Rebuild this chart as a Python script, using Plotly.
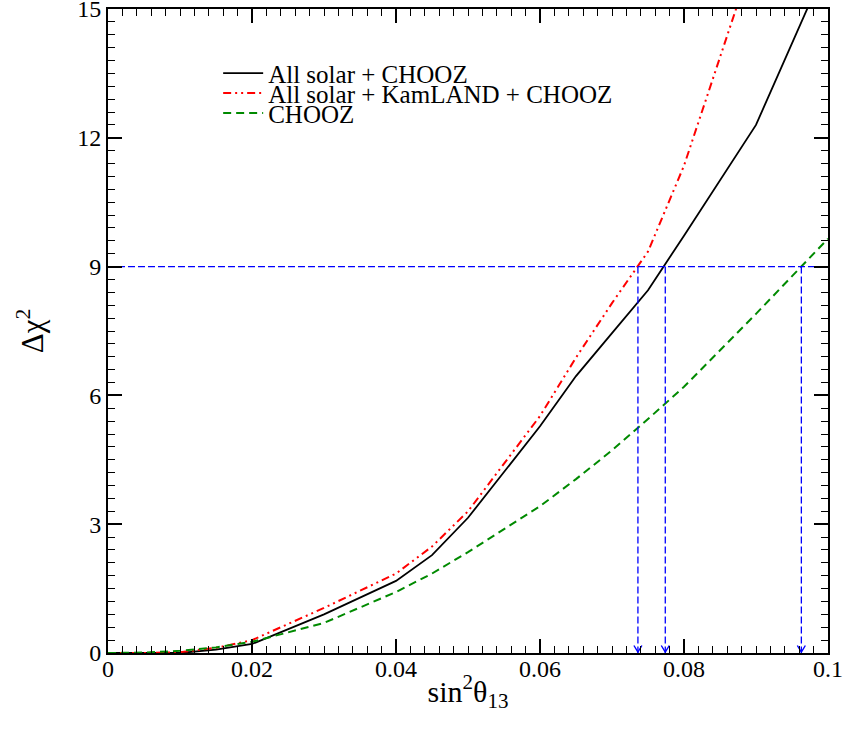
import plotly.graph_objects as go

# sin^2(theta_13) grid and delta-chi^2 profiles
s13 = [0, 0.005, 0.01, 0.015, 0.02, 0.03, 0.04, 0.045, 0.05, 0.06, 0.065, 0.07, 0.075, 0.08, 0.09, 0.1]
solar_chooz = [0, 0, 0.0, 0.08, 0.21, 0.9, 1.68, 2.28, 3.15, 5.28, 6.45, 7.45, 8.45, 9.72, 12.3, 16.1]
solar_kam_chooz = [0, 0, 0.02, 0.12, 0.3, 1.05, 1.85, 2.48, 3.3, 5.52, 6.88, 8.15, 9.35, 11.35, 16.4, 21.5]
chooz = [0, 0.01, 0.05, 0.13, 0.26, 0.7, 1.42, 1.85, 2.35, 3.42, 4.05, 4.72, 5.45, 6.2, 7.9, 9.65]

# 3-sigma level and the corresponding upper limits
cl_level = 9
limits = [0.0736, 0.0774, 0.0963]

labels = ["All solar + CHOOZ", "All solar + KamLAND + CHOOZ", "CHOOZ"]

SERIF = "Liberation Serif"
BLUE = "#0000ff"

fig = go.Figure()

fig.add_trace(go.Scatter(x=s13, y=solar_chooz, mode="lines", name=labels[0],
                         line=dict(color="black", width=1.8), legend="legend"))
fig.add_trace(go.Scatter(x=s13, y=solar_kam_chooz, mode="lines", name=labels[1],
                         line=dict(color="#ff0000", width=2, dash="8px,4px,2px,4px,2px,4px"),
                         legend="legend2"))
fig.add_trace(go.Scatter(x=s13, y=chooz, mode="lines", name=labels[2],
                         line=dict(color="#008a00", width=2, dash="8px,5px"),
                         legend="legend3"))

# horizontal 3-sigma line
fig.add_trace(go.Scatter(x=[0, 0.1], y=[cl_level, cl_level], mode="lines",
                         line=dict(color=BLUE, width=1.3, dash="7px,3px"),
                         showlegend=False, hoverinfo="skip"))

# vertical drop lines with open arrowheads at the x axis
vx, vy, ax_, ay_ = [], [], [], []
hw = 4.0 / 7200.0    # half width of the arrowhead (axis units)
hh = 7.5 / 42.93     # height of the arrowhead (axis units)
for xl in limits:
    vx += [xl, xl, None]
    vy += [cl_level, 0, None]
    ax_ += [xl - hw, xl, xl + hw, None]
    ay_ += [hh, 0.02, hh, None]
fig.add_trace(go.Scatter(x=vx, y=vy, mode="lines",
                         line=dict(color=BLUE, width=1.3, dash="7px,3px"),
                         showlegend=False, hoverinfo="skip"))
fig.add_trace(go.Scatter(x=ax_, y=ay_, mode="lines",
                         line=dict(color=BLUE, width=1.4),
                         showlegend=False, hoverinfo="skip", cliponaxis=False))

legend_common = dict(xanchor="left", yanchor="middle", bgcolor="rgba(0,0,0,0)",
                     borderwidth=0, itemwidth=40,
                     font=dict(family=SERIF, size=25, color="black"))
lx = 0.153
fig.update_layout(
    legend=dict(x=lx, y=0.9, **legend_common),
    legend2=dict(x=lx, y=0.869, **legend_common),
    legend3=dict(x=lx, y=0.838, **legend_common),
)

axis_common = dict(
    showline=True, linecolor="black", linewidth=2, mirror="allticks",
    ticks="inside", ticklen=14, tickwidth=1.5, tickcolor="black",
    showgrid=False, zeroline=False, ticklabeloverflow="allow",
    tickfont=dict(family=SERIF, size=24, color="black"),
)

fig.update_xaxes(range=[0, 0.1], tick0=0, dtick=0.02, ticklabelstandoff=-7,
                 minor=dict(dtick=0.002, ticks="inside", ticklen=7, tickwidth=1.3, tickcolor="black"),
                 title=dict(text="sin<sup>2</sup>θ<sub>13</sub>",
                            font=dict(family=SERIF, size=30, color="black"), standoff=0),
                 **axis_common)
fig.update_yaxes(range=[0, 15], tick0=0, dtick=3,
                 minor=dict(dtick=0.3, ticks="inside", ticklen=7, tickwidth=1.3, tickcolor="black"),
                 title=dict(text="Δχ<sup>2</sup>",
                            font=dict(family=SERIF, size=31, color="black"), standoff=24),
                 **axis_common)

fig.update_layout(
    width=845, height=729,
    margin=dict(l=108, r=17, t=9, b=76, autoexpand=False),
    paper_bgcolor="white", plot_bgcolor="white",
)

fig.write_html("out.html")
